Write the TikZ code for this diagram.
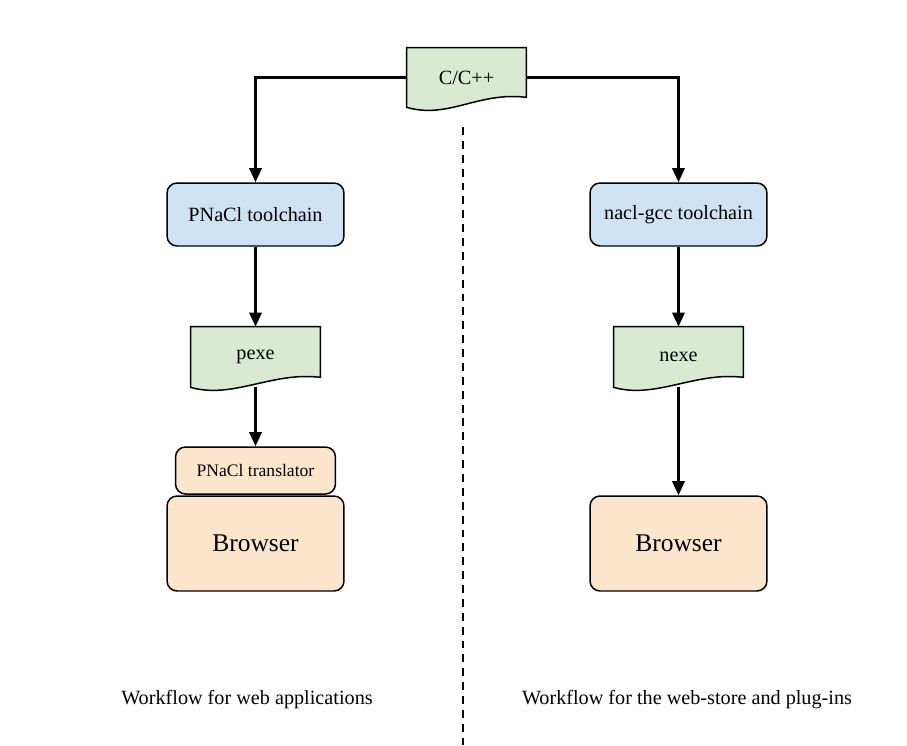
\documentclass[tikz,border=0pt]{standalone}
\usepackage{fontspec}
\setmainfont{Liberation Serif}
\usepackage{xcolor}
\usepackage{tikz}
\usetikzlibrary{arrows.meta}
\usetikzlibrary{backgrounds}

\definecolor{docgreen}{HTML}{D9EAD3}
\definecolor{toolblue}{HTML}{CFE2F3}
\definecolor{hostorange}{HTML}{FCE5CD}

\tikzset{
  box/.style={draw,line width=0.85pt,rounded corners=2mm,align=center,font=\fontsize{11.5}{14}\selectfont},
  toolbox/.style={box,fill=toolblue,minimum width=3.54cm,minimum height=1.26cm},
  hostbox/.style={box,fill=hostorange,minimum width=3.54cm,minimum height=1.9cm,font=\fontsize{14.5}{17}\selectfont},
  transbox/.style={box,fill=hostorange,minimum width=3.2cm,minimum height=0.94cm,font=\fontsize{10}{12}\selectfont},
  docnode/.style={inner sep=0pt,minimum width=2.58cm,minimum height=1.2cm,font=\fontsize{11.5}{14}\selectfont},
  docline/.style={draw,fill=docgreen,line width=0.85pt},
  flow/.style={line width=1.4pt,-{Triangle[length=8pt,width=7pt]}},
  divider/.style={line width=0.6pt,dash pattern=on 4.5pt off 3.4pt},
  caption/.style={font=\fontsize{11.5}{14}\selectfont}
}

\newcommand{\docwave}[1]{%
  \path[docline] (#1.north west) -- (#1.north east) -- ([yshift=2mm]#1.south east)
    .. controls +(-48,-6) and +(42,12) .. (#1.south west) -- cycle;}

\begin{document}
\begin{tikzpicture}[x=0.02cm,y=-0.02cm]

\useasboundingbox (0,0) rectangle (907,745);

\node[docnode,minimum width=2.38cm,minimum height=1.18cm] (src) at (466.5,77.5) {C/C++};	% source file

\node[toolbox] (pnacl) at (255.5,214.5) {PNaCl toolchain};		% left column
\node[docnode] (pexe) at (255.5,357) {pexe};
\node[transbox] (trans) at (255.5,470.5) {PNaCl translator};
\node[hostbox] (hostl) at (255.5,543.5) {Browser};

\node[toolbox] (gcc) at (678.5,214.5) {nacl-gcc toolchain};		% right column
\node[docnode] (nexe) at (678.5,357) {nexe};
\node[hostbox] (hostr) at (678.5,543.5) {Browser};

\begin{scope}[on background layer]							% document outlines
\docwave{src}
\docwave{pexe}
\docwave{nexe}
\end{scope}

\draw[flow] (src.west) -| (pnacl.north);
\draw[flow] (src.east) -| (gcc.north);
\draw[flow] (pnacl) -- (pexe);
\draw[flow] (pexe) -- (trans);
\draw[flow] (gcc) -- (nexe);
\draw[flow] (nexe) -- (hostr);

\draw[divider] (463,127) -- (463,745);						% separator

\node[caption] (capl) at (247,700) {Workflow for web applications};
\node[caption] (capr) at (687,700) {Workflow for the web-store and plug-ins};

\end{tikzpicture}
\end{document}
